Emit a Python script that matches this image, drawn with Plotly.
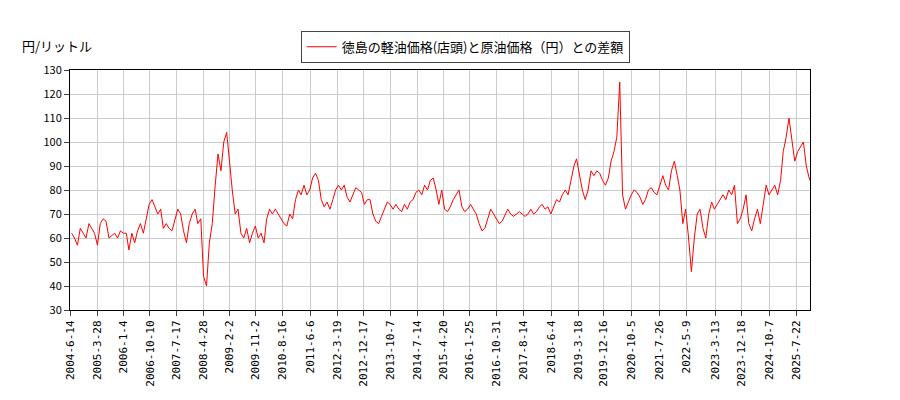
import plotly.graph_objects as go
import pandas as pd

start_month = "2004-06-15"
values = [62,60,57,64,62,60,66,64,62,57,66,68,67,60,61,62,60,63,62,62,55,62,58,63,66,62,68,74,76,73,
70,72,64,66,64,63,68,72,70,63,58,66,70,72,66,68,44,40,58,66,82,95,88,100,104,90,80,70,72,62,
60,64,58,62,65,60,62,58,68,72,70,72,70,68,66,65,70,68,76,80,78,82,78,80,85,87,84,76,73,75,
72,76,80,82,80,82,77,75,78,81,80,79,74,76,76,70,67,66,69,72,75,74,72,74,72,71,74,72,75,76,
79,80,78,82,80,84,85,80,74,80,72,71,73,76,78,80,73,71,72,74,72,70,66,63,64,68,72,70,68,66,
67,70,72,70,69,70,71,70,69,70,72,70,71,73,74,72,73,70,73,76,75,78,80,78,84,90,93,86,80,76,
80,88,86,88,87,84,82,85,92,96,102,125,78,72,75,78,80,79,77,74,76,80,81,79,78,82,86,82,80,88,
92,86,80,66,72,60,46,60,70,72,64,60,70,75,72,74,76,78,76,80,78,82,66,68,72,78,66,63,68,72,
66,74,82,78,80,82,78,84,96,102,110,100,92,96,98,100,90,85,82,78]
dates = pd.date_range(start_month, periods=len(values), freq="MS")

tick_dates = ["2004-06-14","2005-03-28","2006-01-04","2006-10-10","2007-07-17","2008-04-28","2009-02-02",
"2009-11-02","2010-08-16","2011-06-06","2012-03-19","2012-12-17","2013-10-07","2014-07-14","2015-04-20",
"2016-01-25","2016-10-31","2017-08-14","2018-06-04","2019-03-18","2019-12-16","2020-10-05","2021-07-26",
"2022-05-09","2023-03-13","2023-12-18","2024-10-07","2025-07-22"]
tick_text = ["2004-6-14","2005-3-28","2006-1-4","2006-10-10","2007-7-17","2008-4-28","2009-2-2",
"2009-11-2","2010-8-16","2011-6-6","2012-3-19","2012-12-17","2013-10-7","2014-7-14","2015-4-20",
"2016-1-25","2016-10-31","2017-8-14","2018-6-4","2019-3-18","2019-12-16","2020-10-5","2021-7-26",
"2022-5-9","2023-3-13","2023-12-18","2024-10-7","2025-7-22"]

fig = go.Figure(go.Scatter(x=dates, y=values, mode="lines", line=dict(color="red", width=1),
                           name="徳島の軽油価格(店頭)と原油価格（円）との差額"))
fig.update_layout(
    width=884, height=384, plot_bgcolor="white", paper_bgcolor="white",
    margin=dict(l=62, r=82, t=62, b=82),
    font=dict(family="Noto Sans CJK JP", size=11, color="black"),
    showlegend=True,
    legend=dict(x=0.534, y=1.03, xanchor="center", yanchor="bottom", bordercolor="#444", borderwidth=1,
                font=dict(size=13)),
    annotations=[dict(text="円/リットル", xref="paper", yref="paper", x=-0.068, y=1.1,
                      xanchor="left", yanchor="middle", showarrow=False, font=dict(size=13))],
)
fig.update_xaxes(range=["2004-06-14", "2025-12-10"], tickvals=tick_dates, ticktext=tick_text, tickangle=-90,
                 showgrid=True, gridcolor="#ccc", showline=True, linecolor="black", mirror=True,
                 ticks="outside", automargin=False, tickfont=dict(family="DejaVu Sans Mono", size=11))
fig.update_yaxes(range=[30, 130], dtick=10, showgrid=True, gridcolor="#ccc", showline=True,
                 linecolor="black", mirror=True, ticks="outside", automargin=False, tickfont=dict(size=11))
fig.write_html("out.html")
